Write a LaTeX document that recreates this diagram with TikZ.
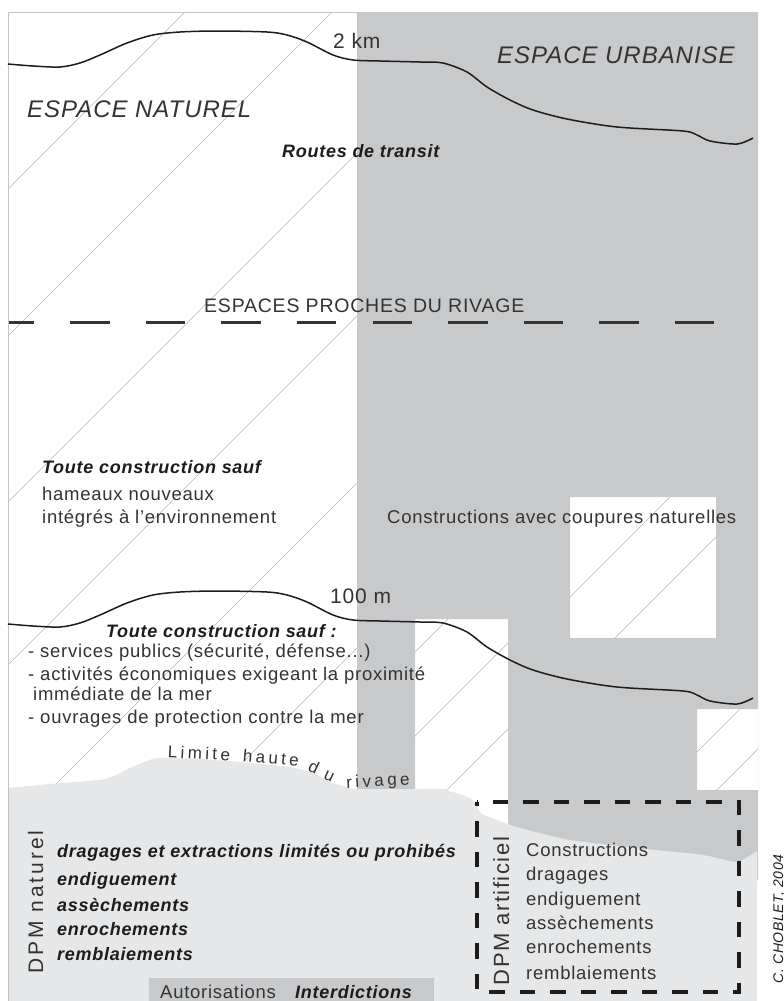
\documentclass[tikz,border=0pt]{standalone}
\usepackage{fontspec}
\setmainfont{Liberation Sans}[LetterSpace=4]
\newfontfamily\limfont{Liberation Sans}[LetterSpace=20]
\newfontfamily\dufont{Liberation Sans}
\newfontfamily\dpmnfont{Liberation Sans}[LetterSpace=14]
\newfontfamily\dpmafont{Liberation Sans}[LetterSpace=7]
\definecolor{urb}{HTML}{C8C9CB}
\definecolor{dpm}{HTML}{E6E7E8}
\definecolor{hatchc}{HTML}{B8B8B8}
\definecolor{framec}{HTML}{C4C4C4}
\definecolor{textc}{HTML}{333333}
\definecolor{inkc}{HTML}{1C1C1C}
\begin{document}
\begin{tikzpicture}[x=1pt,y=-1pt,
  hatchline/.style={draw=hatchc, line width=0.6pt},
  shoreline/.style={draw=inkc, line width=1.5pt, line join=round},
  reg/.style={inner sep=0pt, anchor=base west, text=textc, font=\fontsize{18.5}{22}\selectfont},
  bi/.style={inner sep=0pt, anchor=base west, text=inkc, font=\fontsize{18}{22}\selectfont\bfseries\itshape},
  bigit/.style={inner sep=0pt, anchor=base west, text=textc, font=\fontsize{24}{28}\selectfont\itshape},
  dist/.style={inner sep=0pt, anchor=base west, text=textc, font=\fontsize{21}{24}\selectfont},
  lim/.style={inner sep=0pt, text=textc, font=\fontsize{17}{19}\limfont},
  credit/.style={inner sep=0pt, anchor=base, text=inkc, font=\fontsize{14}{16}\selectfont\itshape}]
\useasboundingbox (0,0) rectangle (784,1001);
% hatching of the left column
\begin{scope}
  \clip (8,12) rectangle (357,800);
  \foreach \c in {197,344,510,673,840,1005}
    \draw[hatchline] (\c-1000,1000) -- (\c,0);
\end{scope}
% urban grey area with white gaps
\fill[urb, even odd rule] (357,12) rectangle (758,880)
  (415,619) rectangle (508,880)
  (570,497) rectangle (716,638)
  (697,709) rectangle (758,790);
\begin{scope}
  \clip (415,619) rectangle (508,880);
  \foreach \c in {1067,1151,1237}
    \draw[hatchline] (\c-1000,1000) -- (\c,0);
\end{scope}
\begin{scope}
  \clip (570,497) rectangle (716,638);
  \foreach \c in {1167,1253}
    \draw[hatchline] (\c-1000,1000) -- (\c,0);
\end{scope}
\begin{scope}
  \clip (697,709) rectangle (758,790);
  \foreach \c in {1449,1507}
    \draw[hatchline] (\c-1000,1000) -- (\c,0);
\end{scope}
% public maritime domain (light grey)
\fill[dpm] plot[smooth, tension=0.35] coordinates {(8,788) (50,784) (105,779) (130,768) (157,758) (200,759) (240,762) (290,767) (313,773) (330,782) (347,787) (357,789) (440,789) (447,790) (470,798) (477,806) (482,814) (508,824) (520,828) (570,840) (637,848) (703,855) (737,862) (755,852)}
  -- (757,852) -- (757,1001) -- (8,1001) -- cycle;
% legend box
\fill[urb] (149,978) rectangle (434,1001);
% frame
\draw[framec, line width=0.8pt] (357,12) -- (8,12) -- (8,1001);
% shore-parallel curves (2 km and 100 m)
\foreach \dy in {0,560}{
  \begin{scope}[shift={(0,\dy)}]
    \draw[shoreline] plot[smooth, tension=0.5] coordinates {(8,64) (33,66) (60,67) (80,63) (100,55) (127,43) (153,35) (180,32) (217,31) (267,32) (287,35) (307,42) (333,55) (353,60) (380,61) (420,62) (443,63) (467,72) (487,87) (510,100) (533,110) (567,119) (617,127) (683,131) (697,135) (710,141) (737,144) (753,138)};
  \end{scope}
}
% espaces proches du rivage limit
\draw[textc, line width=3pt, dash pattern=on 39.5pt off 36.1pt, dash phase=14.5pt] (9,322) -- (728,322);
% DPM artificiel dashed frame
\draw[inkc, line width=3.8pt, dash pattern=on 15.5pt off 15pt, dash phase=15pt] (477,802) -- (739,802) -- (739,992) -- (477,992) -- cycle;
% texts
\node[dist] (km2) at (333,48) {2 km};
\node[bigit] (urbanise) at (497,63) {ESPACE URBANISE};
\node[bigit] (naturel) at (27,117) {ESPACE NATUREL};
\node[bi] (routes) at (282,157) {Routes de transit};
\node[reg, font=\fontsize{19.5}{22}\selectfont] (proches) at (204,312) {ESPACES PROCHES DU RIVAGE};
\node[bi] (tcs1) at (42,473) {Toute construction sauf};
\node[reg] (hameaux) at (42,500) {hameaux nouveaux};
\node[reg] (integres) at (42,523) {intégrés à l’environnement};
\node[reg] (coupures) at (387,523) {Constructions avec coupures naturelles};
\node[dist] (m100) at (330,603) {100 m};
\node[bi] (tcs2) at (106,637) {Toute construction sauf :};
\node[reg] (sp) at (28,657) {- services publics (sécurité, défense...)};
\node[reg] (ae) at (28,680) {- activités économiques exigeant la proximité};
\node[reg] (im) at (33,700) {immédiate de la mer};
\node[reg] (op) at (28,723) {- ouvrages de protection contre la mer};
\node[lim, rotate=-3] (lim1) at (199,753) {Limite};
\node[lim, rotate=-5] (lim2) at (271,758) {haute};
\node[lim, rotate=-25, font=\fontsize{17}{19}\dufont] (lim3d) at (314,767) {d};
\node[lim, rotate=-25, font=\fontsize{17}{19}\dufont] (lim3u) at (329,776) {u};
\node[lim, rotate=3] (lim4) at (378,782) {rivage};
\node[inner sep=0pt, anchor=base, text=textc, font=\fontsize{21}{24}\dpmnfont, rotate=90] (dpmn) at (43,902) {DPM naturel};
\node[bi] (n1) at (57,857) {dragages et extractions limités ou prohibés};
\node[bi] (n2) at (57,885) {endiguement};
\node[bi] (n3) at (57,911) {assèchements};
\node[bi] (n4) at (57,935) {enrochements};
\node[bi] (n5) at (57,960) {remblaiements};
\node[reg] (autor) at (160,998) {Autorisations};
\node[bi] (interd) at (295,998) {Interdictions};
\node[inner sep=0pt, anchor=base, text=textc, font=\fontsize{22}{24}\dpmafont, rotate=90] (dpma) at (509,911) {DPM artificiel};
\node[reg] (a1) at (526,856) {Constructions};
\node[reg] (a2) at (526,880) {dragages};
\node[reg] (a3) at (526,905) {endiguement};
\node[reg] (a4) at (526,929) {assèchements};
\node[reg] (a5) at (526,953) {enrochements};
\node[reg] (a6) at (526,979) {remblaiements};
\node[credit, rotate=90] (credit) at (783,919) {C. CHOBLET, 2004};
\end{tikzpicture}
\end{document}
